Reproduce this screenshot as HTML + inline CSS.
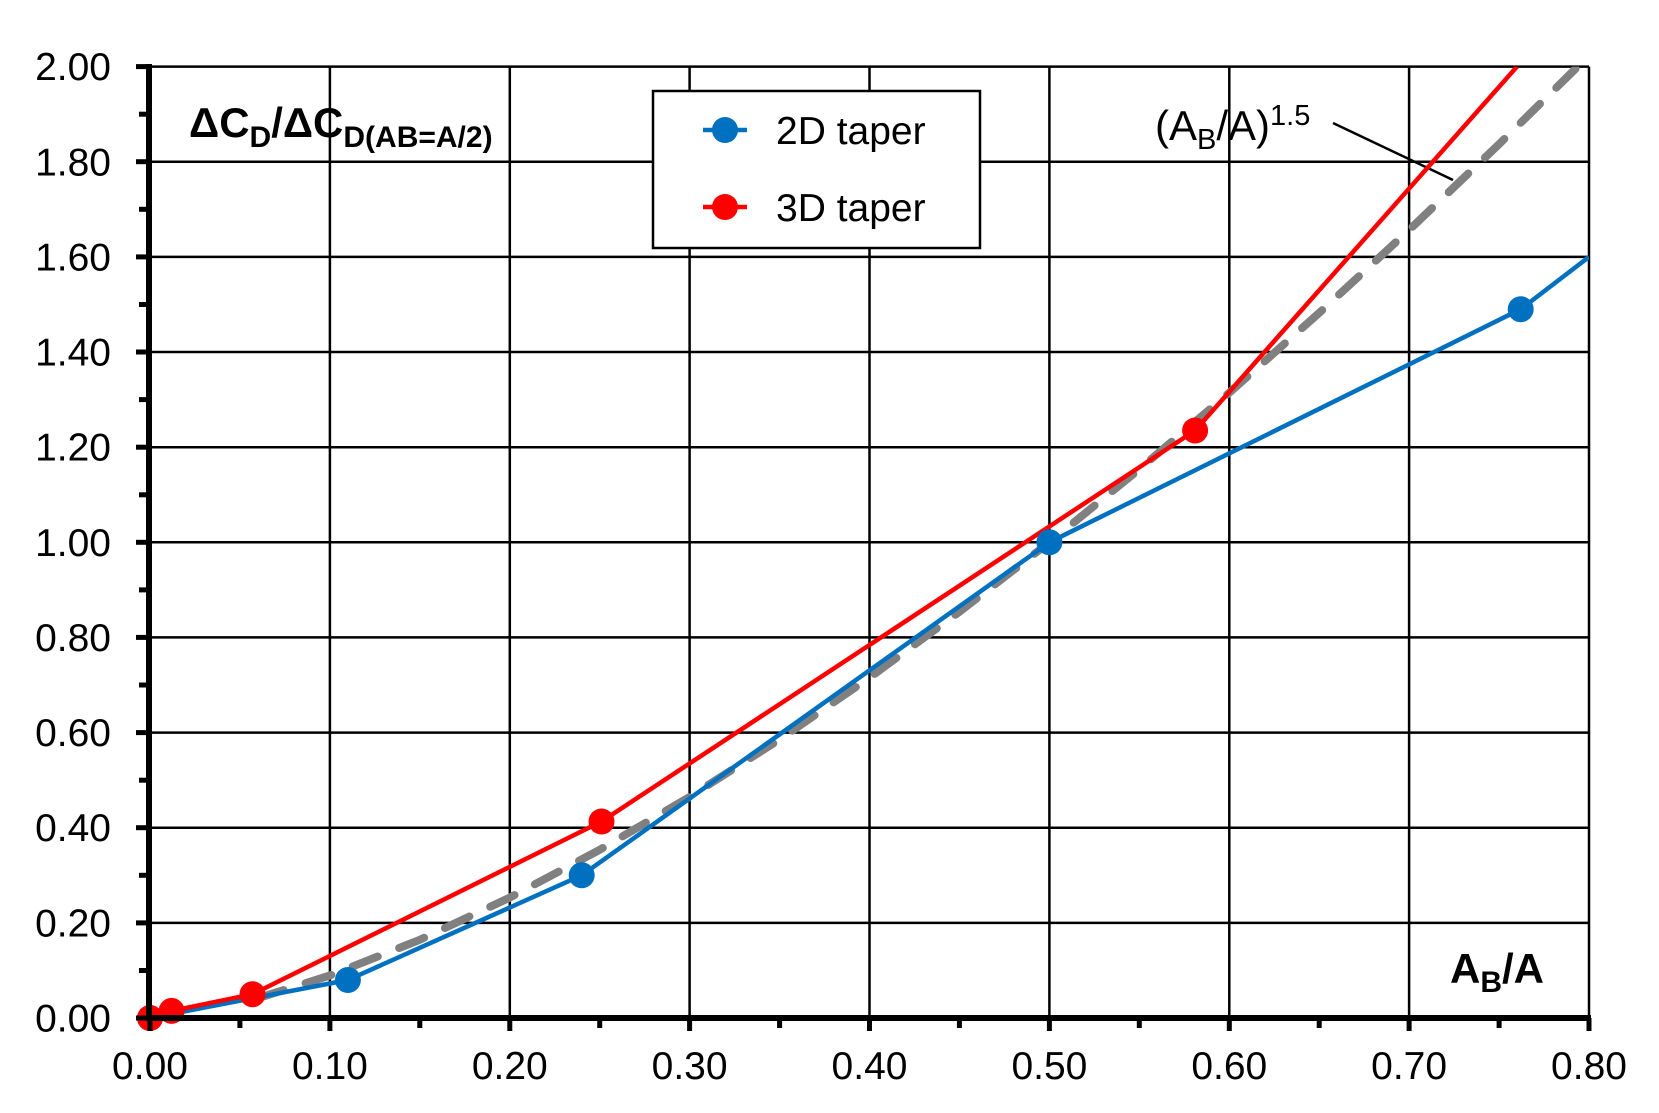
<!DOCTYPE html>
<html><head><meta charset="utf-8"><style>
html,body{margin:0;padding:0;background:#fff;}
svg{display:block;font-family:"Liberation Sans",Arial,sans-serif;}
</style></head><body>
<svg width="1659" height="1113" viewBox="0 0 1659 1113" xmlns="http://www.w3.org/2000/svg">
<defs><clipPath id="pa"><rect x="150" y="66.6" width="1439" height="951.4"/></clipPath></defs>
<rect width="1659" height="1113" fill="#fff"/>
<g stroke="#000" stroke-width="2.5">
<line x1="329.9" y1="66.6" x2="329.9" y2="1018"/>
<line x1="509.8" y1="66.6" x2="509.8" y2="1018"/>
<line x1="689.6" y1="66.6" x2="689.6" y2="1018"/>
<line x1="869.5" y1="66.6" x2="869.5" y2="1018"/>
<line x1="1049.4" y1="66.6" x2="1049.4" y2="1018"/>
<line x1="1229.3" y1="66.6" x2="1229.3" y2="1018"/>
<line x1="1409.1" y1="66.6" x2="1409.1" y2="1018"/>
<line x1="1589" y1="66.6" x2="1589" y2="1018"/>
<line x1="150" y1="66.6" x2="1589" y2="66.6"/>
<line x1="150" y1="161.7" x2="1589" y2="161.7"/>
<line x1="150" y1="256.9" x2="1589" y2="256.9"/>
<line x1="150" y1="352" x2="1589" y2="352"/>
<line x1="150" y1="447.2" x2="1589" y2="447.2"/>
<line x1="150" y1="542.3" x2="1589" y2="542.3"/>
<line x1="150" y1="637.4" x2="1589" y2="637.4"/>
<line x1="150" y1="732.6" x2="1589" y2="732.6"/>
<line x1="150" y1="827.7" x2="1589" y2="827.7"/>
<line x1="150" y1="922.9" x2="1589" y2="922.9"/>
</g>
<text x="189" y="137" font-size="42" font-weight="bold">ΔC<tspan font-size="30" dy="10">D</tspan><tspan dy="-10">/ΔC</tspan><tspan font-size="30" dy="10">D(AB=A/2)</tspan></text>
<text x="1155" y="140" font-size="42">(A<tspan font-size="29" dy="9">B</tspan><tspan dy="-9">/A)</tspan><tspan font-size="29" dy="-15">1.5</tspan></text>
<line x1="1333" y1="123" x2="1453" y2="180" stroke="#000" stroke-width="2.5"/>
<text x="1450" y="983" font-size="42" font-weight="bold">A<tspan font-size="30" dy="9">B</tspan><tspan dy="-9">/A</tspan></text>
<g clip-path="url(#pa)" fill="none" stroke-linejoin="round">
<polyline stroke="#808080" stroke-width="8" stroke-linecap="round" stroke-dasharray="27 23" points="257.9,998.2 329.9,975.5 419.8,939.8 509.8,897.6 599.7,849.8 689.6,796.9 779.6,739.4 869.5,677.6 959.4,611.8 1049.4,542.3 1139.3,469.2 1229.3,392.7 1319.2,312.9 1409.1,230 1499.1,144.1 1577.7,66.6 1590,50"/>
<polyline stroke="#0070C0" stroke-width="4.5" points="150,1018 347.9,980 581.7,875.3 1049.4,542.3 1520.7,309.2 1589,256.9"/>
<polyline stroke="#FF0000" stroke-width="4.5" points="150,1018 171.6,1010.9 252.5,994.2 601.5,821.5 1195.1,430.5 1517,66.6"/>
</g>
<g fill="#0070C0">
<circle cx="150" cy="1018" r="13"/><circle cx="347.9" cy="980" r="13"/><circle cx="581.7" cy="875.3" r="13"/><circle cx="1049.4" cy="542.3" r="13"/><circle cx="1520.7" cy="309.2" r="13"/>
</g>
<g fill="#FF0000">
<circle cx="150" cy="1018" r="13"/><circle cx="171.6" cy="1010.9" r="13"/><circle cx="252.5" cy="994.2" r="13"/><circle cx="601.5" cy="821.5" r="13"/><circle cx="1195.1" cy="430.5" r="13"/>
</g>
<g stroke="#000">
<line x1="149" y1="64" x2="149" y2="1021" stroke-width="6"/>
<line x1="146" y1="1018" x2="1591" y2="1018" stroke-width="6"/>
<g stroke-width="5">
<line x1="136" y1="66.6" x2="150" y2="66.6"/><line x1="139" y1="114.2" x2="150" y2="114.2"/>
<line x1="136" y1="161.7" x2="150" y2="161.7"/><line x1="139" y1="209.3" x2="150" y2="209.3"/>
<line x1="136" y1="256.9" x2="150" y2="256.9"/><line x1="139" y1="304.5" x2="150" y2="304.5"/>
<line x1="136" y1="352" x2="150" y2="352"/><line x1="139" y1="399.6" x2="150" y2="399.6"/>
<line x1="136" y1="447.2" x2="150" y2="447.2"/><line x1="139" y1="494.8" x2="150" y2="494.8"/>
<line x1="136" y1="542.3" x2="150" y2="542.3"/><line x1="139" y1="589.9" x2="150" y2="589.9"/>
<line x1="136" y1="637.4" x2="150" y2="637.4"/><line x1="139" y1="685" x2="150" y2="685"/>
<line x1="136" y1="732.6" x2="150" y2="732.6"/><line x1="139" y1="780.2" x2="150" y2="780.2"/>
<line x1="136" y1="827.7" x2="150" y2="827.7"/><line x1="139" y1="875.3" x2="150" y2="875.3"/>
<line x1="136" y1="922.9" x2="150" y2="922.9"/><line x1="139" y1="970.5" x2="150" y2="970.5"/>
<line x1="136" y1="1018" x2="150" y2="1018"/>
<line x1="150" y1="1018" x2="150" y2="1031"/><line x1="239.9" y1="1018" x2="239.9" y2="1028"/>
<line x1="329.9" y1="1018" x2="329.9" y2="1031"/><line x1="419.8" y1="1018" x2="419.8" y2="1028"/>
<line x1="509.8" y1="1018" x2="509.8" y2="1031"/><line x1="599.7" y1="1018" x2="599.7" y2="1028"/>
<line x1="689.6" y1="1018" x2="689.6" y2="1031"/><line x1="779.6" y1="1018" x2="779.6" y2="1028"/>
<line x1="869.5" y1="1018" x2="869.5" y2="1031"/><line x1="959.4" y1="1018" x2="959.4" y2="1028"/>
<line x1="1049.4" y1="1018" x2="1049.4" y2="1031"/><line x1="1139.3" y1="1018" x2="1139.3" y2="1028"/>
<line x1="1229.3" y1="1018" x2="1229.3" y2="1031"/><line x1="1319.2" y1="1018" x2="1319.2" y2="1028"/>
<line x1="1409.1" y1="1018" x2="1409.1" y2="1031"/><line x1="1499.1" y1="1018" x2="1499.1" y2="1028"/>
<line x1="1589" y1="1018" x2="1589" y2="1031"/>
</g>
</g>
<g font-size="39" text-anchor="end">
<text x="111" y="80">2.00</text><text x="111" y="175.5">1.80</text><text x="111" y="270.5">1.60</text>
<text x="111" y="365.5">1.40</text><text x="111" y="460.5">1.20</text><text x="111" y="556">1.00</text>
<text x="111" y="651">0.80</text><text x="111" y="746">0.60</text><text x="111" y="841">0.40</text>
<text x="111" y="936.5">0.20</text><text x="111" y="1031.5">0.00</text>
</g>
<g font-size="39" text-anchor="middle">
<text x="150" y="1079">0.00</text><text x="329.9" y="1079">0.10</text><text x="509.8" y="1079">0.20</text>
<text x="689.6" y="1079">0.30</text><text x="869.5" y="1079">0.40</text><text x="1049.4" y="1079">0.50</text>
<text x="1229.3" y="1079">0.60</text><text x="1409.1" y="1079">0.70</text><text x="1589" y="1079">0.80</text>
</g>
<rect x="653" y="91" width="327" height="157" fill="#fff" stroke="#000" stroke-width="2.5"/>
<line x1="703" y1="130" x2="747" y2="130" stroke="#0070C0" stroke-width="4.5"/>
<circle cx="725" cy="130" r="13" fill="#0070C0"/>
<text x="776" y="144" font-size="39">2D taper</text>
<line x1="703" y1="207" x2="747" y2="207" stroke="#FF0000" stroke-width="4.5"/>
<circle cx="725" cy="207" r="13" fill="#FF0000"/>
<text x="776" y="221" font-size="39">3D taper</text>
</svg>
</body></html>
